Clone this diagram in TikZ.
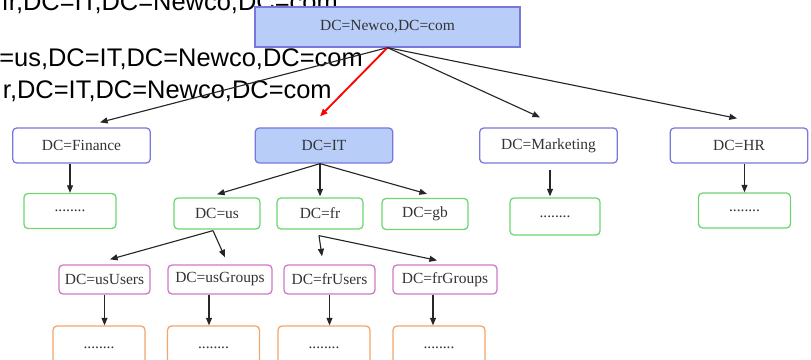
\documentclass[tikz,border=0pt]{standalone}
\usepackage{fontspec}
\setmainfont{Liberation Serif}
\newfontfamily\bigsans{Liberation Sans}
\usepackage{xcolor}
\usetikzlibrary{positioning,calc,arrows.meta}

\definecolor{boxblue}{HTML}{7878DC}
\definecolor{fillblue}{HTML}{B8CDF7}
\definecolor{boxgreen}{HTML}{6FD66F}
\definecolor{boxpink}{HTML}{D078C8}
\definecolor{boxorange}{HTML}{F3A569}
\definecolor{txtgray}{HTML}{333333}

\tikzset{
    base/.style={draw, line width=0.9pt, inner sep=0pt, font=\fontsize{11}{13}\selectfont, text=txtgray},
    topbox/.style={base, draw=boxblue, fill=fillblue, minimum width=66.25mm, minimum height=10mm},
    ou/.style={base, draw=boxblue, rounded corners=1mm, minimum width=34.4mm, minimum height=8.75mm},
    leaf/.style={base, draw=boxgreen, rounded corners=1mm, minimum width=23mm, minimum height=8.75mm},
    sub/.style={base, draw=boxgreen, rounded corners=1mm, minimum width=21.5mm, minimum height=7.75mm},
    grp/.style={base, draw=boxpink, rounded corners=1mm, minimum height=7.25mm},
    obj/.style={base, draw=boxorange, rounded corners=1mm, minimum width=23mm, minimum height=11mm},
    dntext/.style={anchor=base east, inner sep=0pt, font=\bigsans\fontsize{18.1}{20}\selectfont},
    arr/.style={->, line width=0.8pt, draw=black!85}
}

\begin{document}
\begin{tikzpicture}[x=0.25mm, y=-0.25mm, >={Triangle[length=1.9mm,width=1.5mm]}]
    \useasboundingbox (0,0) rectangle (811,360);
    \clip (0,0) rectangle (811,360);

    % DN text behind the tree
    \node[dntext] (dn1) at (338,11) {fr,DC=IT,DC=Newco,DC=com};
    \node[dntext] (dn2) at (363,67) {=us,DC=IT,DC=Newco,DC=com};
    \node[dntext] (dn3) at (332,99) {r,DC=IT,DC=Newco,DC=com};

    % domain
    \node[topbox] (root) at (387.5,27) {DC=Newco,DC=com};

    % second level
    \node[ou] (fin) at (81.5,145.5) {DC=Finance};
    \node[ou, fill=fillblue] (it) at (324,145.5) {DC=IT};
    \node[ou] (mkt) at (548.5,145.5) {DC=Marketing};
    \node[ou] (hr) at (739,145.5) {DC=HR};

    \node[leaf] (finx) at (70,211) {........};
    \node[leaf, minimum width=22.5mm, minimum height=9.25mm] (mktx) at (555,216.5) {........};
    \node[leaf] (hrx) at (744.5,210.5) {........};

    % under IT
    \node[sub] (us) at (217,213.5) {DC=us};
    \node[sub] (fr) at (320,213.5) {DC=fr};
    \node[sub] (gb) at (425,214) {DC=gb};

    \node[grp, minimum width=22.75mm] (uu) at (104.5,279.5) {DC=usUsers};
    \node[grp, minimum width=26mm] (ug) at (220,279.5) {DC=usGroups};
    \node[grp, minimum width=22.75mm] (fu) at (329.5,279.5) {DC=frUsers};
    \node[grp, minimum width=26mm] (fg) at (445,279.5) {DC=frGroups};

    \node[obj] (ux) at (99,348) {........};
    \node[obj] (ugx) at (213.5,348) {........};
    \node[obj] (fux) at (324,348) {........};
    \node[obj] (fgx) at (439,348) {........};

    % arrows
    \draw[arr] (root.south) -- ($(fin.north)+(18.5,-5)$);
    \draw[->, red, line width=1.3pt] (root.south) -- ($(it.north)+(-4,-11)$);
    \draw[arr] (root.south) -- ($(mkt.north)+(-8.5,-10)$);
    \draw[arr] (root.south) -- ($(hr.north)+(-2,-9)$);

    \draw[arr] (fin.south -| finx.north) -- (finx.north);
    \draw[arr] ($(mkt.south)+(1.5,6)$) -- ($(mktx.north)+(-5,-1)$);
    \draw[arr] (hr.south -| hrx.north) -- (hrx.north);

    \draw[arr] ($(it.south)+(-4,0)$) -- ($(us.north)+(0,-3)$);
    \draw[arr] ($(it.south)+(-4,0)$) -- ($(fr.north)+(0,-1)$);
    \draw[arr] ($(it.south)+(-4,0)$) -- ($(gb.north)+(2,-4)$);

    \draw[arr] ($(us.south)+(-4,1)$) -- ($(uu.north)+(5.5,-5)$);
    \draw[arr] ($(us.south)+(-4,1)$) -- ($(ug.north)+(5,-7)$);
    \draw[arr] ($(fr.south)+(-1,6)$) -- ($(fu.north)+(-7.5,-8)$);
    \draw[arr] ($(fr.south)+(-1,6)$) -- ($(fg.north)+(-8,-4)$);

    \draw[arr] (uu.south) -- (uu.south |- ux.north);
    \draw[arr] ($(ug.south)+(-11,0)$) -- ($(ugx.north)+(-4.5,0)$);
    \draw[arr] (fu.south) -- (fu.south |- fux.north);
    \draw[arr] ($(fg.south)+(-12,0)$) -- ($(fgx.north)+(-6,0)$);
\end{tikzpicture}
\end{document}
